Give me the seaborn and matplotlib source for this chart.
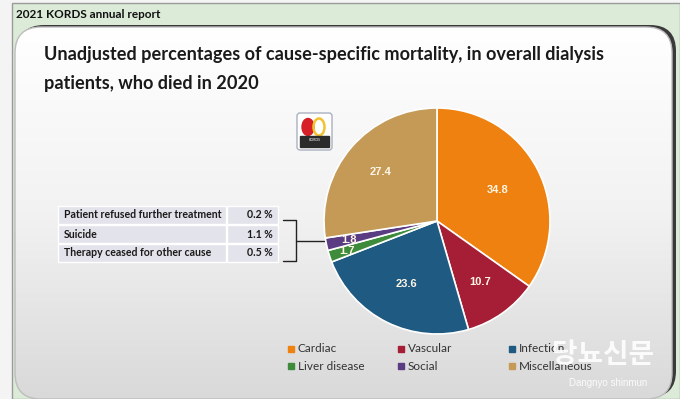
import numpy as np
import matplotlib
matplotlib.use('Agg')
import matplotlib.pyplot as plt
import seaborn as sns
from matplotlib.patches import FancyBboxPatch, Rectangle, Ellipse

# --- chart data ---
causes = ['Cardiac', 'Vascular', 'Infection', 'Liver disease', 'Social', 'Miscellaneous']
shares = [34.8, 10.7, 23.6, 1.7, 1.8, 27.4]
slice_colors = ['#EF8110', '#A51E35', '#1E5A82', '#3F8B3C', '#5A3C83', '#C49A56']

social_items = ['Patient refused further treatment', 'Suicide', 'Therapy ceased for other cause']
social_pcts = ['0.2 %', '1.1 %', '0.5 %']

header = '2021 KORDS annual report'
title = 'Unadjusted percentages of cause-specific mortality, in overall dialysis\npatients, who died in 2020'

sns.set_theme(style='white')
plt.rcParams['font.family'] = ['Lato', 'DejaVu Sans']

W, H = 680, 399
fig = plt.figure(figsize=(W / 100, H / 100), dpi=100)
bg = fig.add_axes([0, 0, 1, 1])
bg.set_xlim(0, W)
bg.set_ylim(H, 0)
bg.axis('off')

# outer background and header strip
bg.add_patch(Rectangle((0, 0), W, H, color='#F4F4F4', zorder=0))
bg.add_patch(Rectangle((12, 3), W - 12, H - 3, facecolor='#DCEBD8', edgecolor='#9A9A9A', lw=1, zorder=1))
bg.text(16, 14, header, fontsize=8.5, fontweight='bold', color='#111111', va='center', zorder=2)

# rounded panel with shadow edge and vertical gradient
shadow = FancyBboxPatch((18, 25), 658, 372, boxstyle='round,pad=0,rounding_size=26',
                        facecolor='#3A3A3A', edgecolor='none', zorder=2)
bg.add_patch(shadow)
panel = FancyBboxPatch((15, 27), 657, 372, boxstyle='round,pad=0,rounding_size=26',
                       facecolor='none', edgecolor='#BDBDBD', lw=1, zorder=4)
bg.add_patch(panel)
grad = np.linspace(1.0, 0.0, 256).reshape(-1, 1)
img = bg.imshow(grad, cmap=matplotlib.colors.LinearSegmentedColormap.from_list('g', ['#D9D9D9', '#F2F2F2', '#FFFFFF']),
                extent=(15, 672, 399, 27), aspect='auto', zorder=3)
img.set_clip_path(panel)

bg.text(44, 46, title, fontsize=13.1, fontweight='bold', color='#1A1A1A',
        va='top', linespacing=1.85, zorder=5)

# small logo
bg.add_patch(FancyBboxPatch((297, 113), 35, 37, boxstyle='round,pad=0,rounding_size=3',
                            facecolor='white', edgecolor='#AAB0C0', lw=1, zorder=5))
bg.add_patch(Ellipse((308, 127), 12, 17, color='#D61F26', zorder=6))
bg.add_patch(Ellipse((319, 127), 11, 17, facecolor='none', edgecolor='#F2C230', lw=1.8, zorder=6))
bg.add_patch(Rectangle((300, 136), 29, 11, color='#2B2B2B', zorder=6))
bg.text(314.5, 140, 'KORDS', fontsize=2.5, color='white', ha='center', va='center', zorder=7)

# table of social causes
row_y = [215, 234, 253]
for yy, item, pct in zip(row_y, social_items, social_pcts):
    bg.add_patch(Rectangle((58, yy - 9), 168, 18, facecolor='#E3E3EB', edgecolor='white', lw=1, zorder=5))
    bg.add_patch(Rectangle((227, yy - 9), 51, 18, facecolor='#E3E3EB', edgecolor='white', lw=1, zorder=5))
    bg.text(64, yy, item, fontsize=7.6, fontweight='bold', color='#1A1A1A', va='center', zorder=6)
    bg.text(273, yy, pct, fontsize=7.6, fontweight='bold', color='#1A1A1A', va='center', ha='right', zorder=6)

# bracket linking table to the social slice
bg.plot([283, 296, 296, 283], [220, 220, 261, 261], color='#222222', lw=1, zorder=6)
bg.plot([296, 336], [241, 241], color='#222222', lw=1, zorder=6)

# pie
cx, cy, r = 437, 221, 113
ax = fig.add_axes([(cx - r) / W, (H - cy - r) / H, 2 * r / W, 2 * r / H])
wedges, _ = ax.pie(shares, colors=slice_colors, startangle=90, counterclock=False, radius=1,
                   wedgeprops=dict(edgecolor='white', linewidth=1.2))
ax.set_xlim(-1, 1)
ax.set_ylim(-1, 1)
ax.axis('off')
label_dist = [0.6, 0.66, 0.62, 0.84, 0.8, 0.66]
for w, val, d in zip(wedges, shares, label_dist):
    ang = np.deg2rad((w.theta1 + w.theta2) / 2)
    ax.text(d * np.cos(ang), d * np.sin(ang), f'{val:.1f}', ha='center', va='center',
            fontsize=8, fontweight='bold', color='#FFF6E6', family=['Liberation Sans', 'DejaVu Sans'])

# legend laid out as two rows of three
leg_x = [291, 401, 512]
leg_y = [349, 366]
for i, (name, col) in enumerate(zip(causes, slice_colors)):
    lx, ly = leg_x[i % 3], leg_y[i // 3]
    bg.add_patch(Rectangle((lx - 3, ly - 3), 6, 6, color=col, zorder=6))
    bg.text(lx + 7, ly, name, fontsize=8.5, color='#333333', va='center', zorder=6)

# watermark
bg.text(603, 355, '당뇨신문', fontsize=20, fontweight='bold', color='white', alpha=0.9,
        ha='center', va='center', family=['Noto Sans CJK KR', 'DejaVu Sans'], zorder=8)
bg.text(608, 383, 'Dangnyo shinmun', fontsize=7, color='white', alpha=0.9,
        ha='center', va='center', family=['Liberation Sans', 'DejaVu Sans'], zorder=8)

fig.savefig('out.png', dpi=100)
